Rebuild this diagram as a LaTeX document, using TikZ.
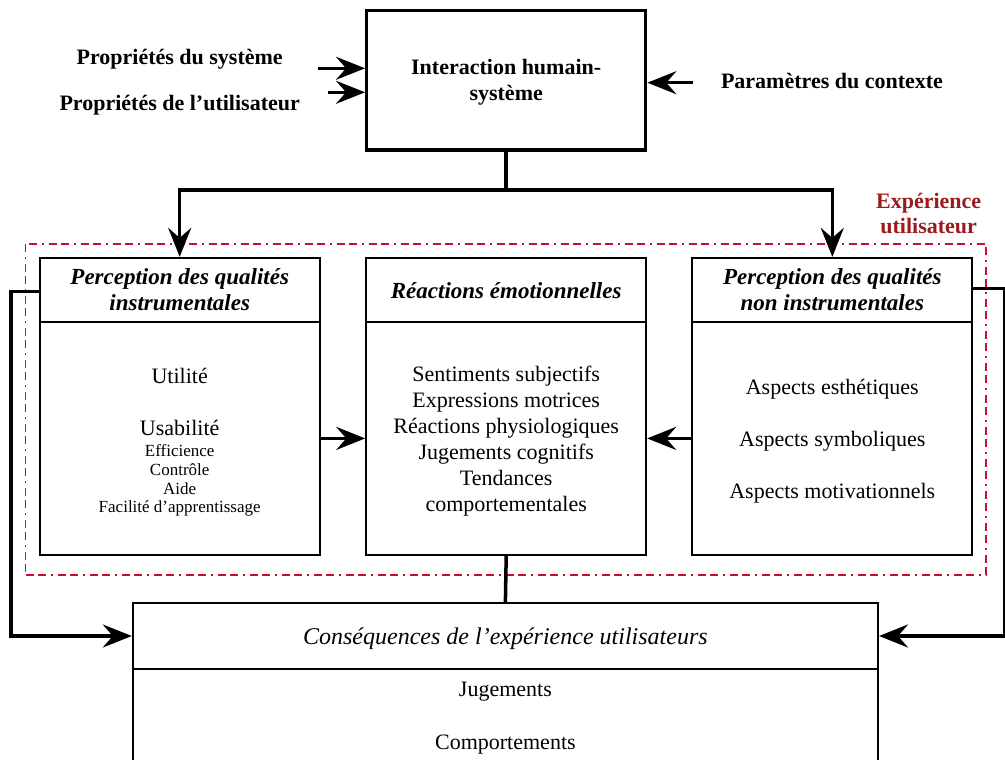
\documentclass[tikz,border=0pt]{standalone}
\usepackage{fontspec}
\setmainfont{Liberation Serif}
\usetikzlibrary{arrows.meta}
\definecolor{uxline}{HTML}{C8102E}
\definecolor{uxtext}{HTML}{9B1B1E}
\newcommand{\bodyfnt}{\fontsize{22}{26}\selectfont}
\newcommand{\hdrfnt}{\fontsize{23}{26}\selectfont}
\newcommand{\conhfnt}{\fontsize{24}{26}\selectfont}
\newcommand{\smallfnt}{\fontsize{17}{19}\selectfont}
\begin{document}
\begin{tikzpicture}[x=1pt,y=-1pt,
  box/.style={draw=black, line width=1.9pt, inner sep=0pt, minimum width=280pt},
  hbox/.style={box, minimum height=64.3pt},
  bbox/.style={box, minimum height=232.7pt},
  topbox/.style={draw=black, line width=3.3pt, inner sep=0pt, minimum width=279pt, minimum height=139.3pt},
  uxbox/.style={draw=uxline, line width=1.5pt, inner sep=0pt, dash pattern=on 8pt off 4pt on 8pt off 5pt on 2pt off 5pt},
  txt/.style={anchor=base, inner sep=0pt, font=\bodyfnt},
  btxt/.style={anchor=base, inner sep=0pt, font=\bodyfnt\bfseries},
  htxt/.style={anchor=base, inner sep=0pt, font=\hdrfnt\bfseries\itshape},
  ctxt/.style={anchor=base, inner sep=0pt, font=\conhfnt\itshape},
  stxt/.style={anchor=base, inner sep=0pt, font=\smallfnt},
  uxtxt/.style={anchor=base, inner sep=0pt, font=\bodyfnt\bfseries, text=uxtext},
  arr/.style={line width=3.5pt, -{Stealth[length=29pt,width=23pt,inset=10pt]}},
  conn/.style={line width=3.5pt}]
\clip (0,0) rectangle (1005,760);

% user experience frame
\node[uxbox, minimum width=960.3pt, minimum height=331pt] (ux) at (505.85,409.5) {};
\node[uxtxt] (uxa) at (928.7,208.3) {Expérience};
\node[uxtxt] (uxb) at (928.7,233.3) {utilisateur};

% top box
\node[topbox] (ihs) at (506.2,80.3) {};
\node[btxt] (ihs1) at (506.2,75) {Interaction humain-};
\node[btxt] (ihs2) at (506.2,100.5) {système};

\node[btxt] (ps) at (179.7,64.3) {Propriétés du système};
\node[btxt] (pu) at (179.7,110.5) {Propriétés de l’utilisateur};
\node[btxt] (pc) at (832,88.3) {Paramètres du contexte};
\coordinate (psa) at (318,68.3);
\coordinate (pua) at (328,92.3);
\coordinate (pca) at (693.3,82.7);
\draw[arr] (psa) -- (psa -| ihs.west);
\draw[arr] (pua) -- (pua -| ihs.west);
\draw[arr] (pca) -- (pca -| ihs.east);

% three boxes
\node[hbox] (lh) at (179.7,290) {};
\node[bbox] (lb) at (179.7,438.4) {};
\node[hbox] (mh) at (506.2,290) {};
\node[bbox] (mb) at (506.2,438.4) {};
\node[hbox] (rh) at (832.3,290) {};
\node[bbox] (rb) at (832.3,438.4) {};

\node[htxt] (lh1) at (179.7,284.3) {Perception des qualités};
\node[htxt] (lh2) at (179.7,310.7) {instrumentales};
\node[htxt] (mh1) at (506.2,298.3) {Réactions émotionnelles};
\node[htxt] (rh1) at (832.3,284.3) {Perception des qualités};
\node[htxt] (rh2) at (832.3,310.7) {non instrumentales};

\node[txt] (l1) at (179.7,383.3) {Utilité};
\node[txt] (l2) at (179.7,435) {Usabilité};
\node[stxt] (l3) at (179.7,456.7) {Efficience};
\node[stxt] (l4) at (179.7,475.3) {Contrôle};
\node[stxt] (l5) at (179.7,494) {Aide};
\node[stxt] (l6) at (179.7,512.7) {Facilité d’apprentissage};

\node[txt] (m1) at (506.2,381.7) {Sentiments subjectifs};
\node[txt] (m2) at (506.2,407.7) {Expressions motrices};
\node[txt] (m3) at (506.2,433.7) {Réactions physiologiques};
\node[txt] (m4) at (506.2,459.7) {Jugements cognitifs};
\node[txt] (m5) at (506.2,485.7) {Tendances};
\node[txt] (m6) at (506.2,511.7) {comportementales};

\node[txt] (r1) at (832.3,394) {Aspects esthétiques};
\node[txt] (r2) at (832.3,446) {Aspects symboliques};
\node[txt] (r3) at (832.3,498.7) {Aspects motivationnels};

% consequences box
\node[box, minimum width=745.3pt, minimum height=65.4pt] (ch) at (505.4,636) {};
\node[box, minimum width=745.3pt, minimum height=140pt] (cb) at (505.4,738.7) {};
\node[ctxt] (ch1) at (505.4,644) {Conséquences de l’expérience utilisateurs};
\node[txt] (c1) at (505.4,696.7) {Jugements};
\node[txt] (c2) at (505.4,749.3) {Comportements};

% connectors
\coordinate (split) at (506.2,190);
\draw[arr] (ihs.south) -- (ihs.south |- split) -| (lh.north);
\draw[arr] (ihs.south) -- (ihs.south |- split) -| (rh.north);
\draw[arr] (lb.east) -- (mb.west);
\draw[arr] (rb.west) -- (mb.east);
\draw[conn] (mb.south) -- (ch.north);
\draw[arr] ([yshift=-1.7pt]lh.west) -- ++(-28,0) |- (ch.west);
\draw[arr] ([yshift=1.7pt]rh.east) -- ++(31.5,0) |- (ch.east);
\end{tikzpicture}
\end{document}
